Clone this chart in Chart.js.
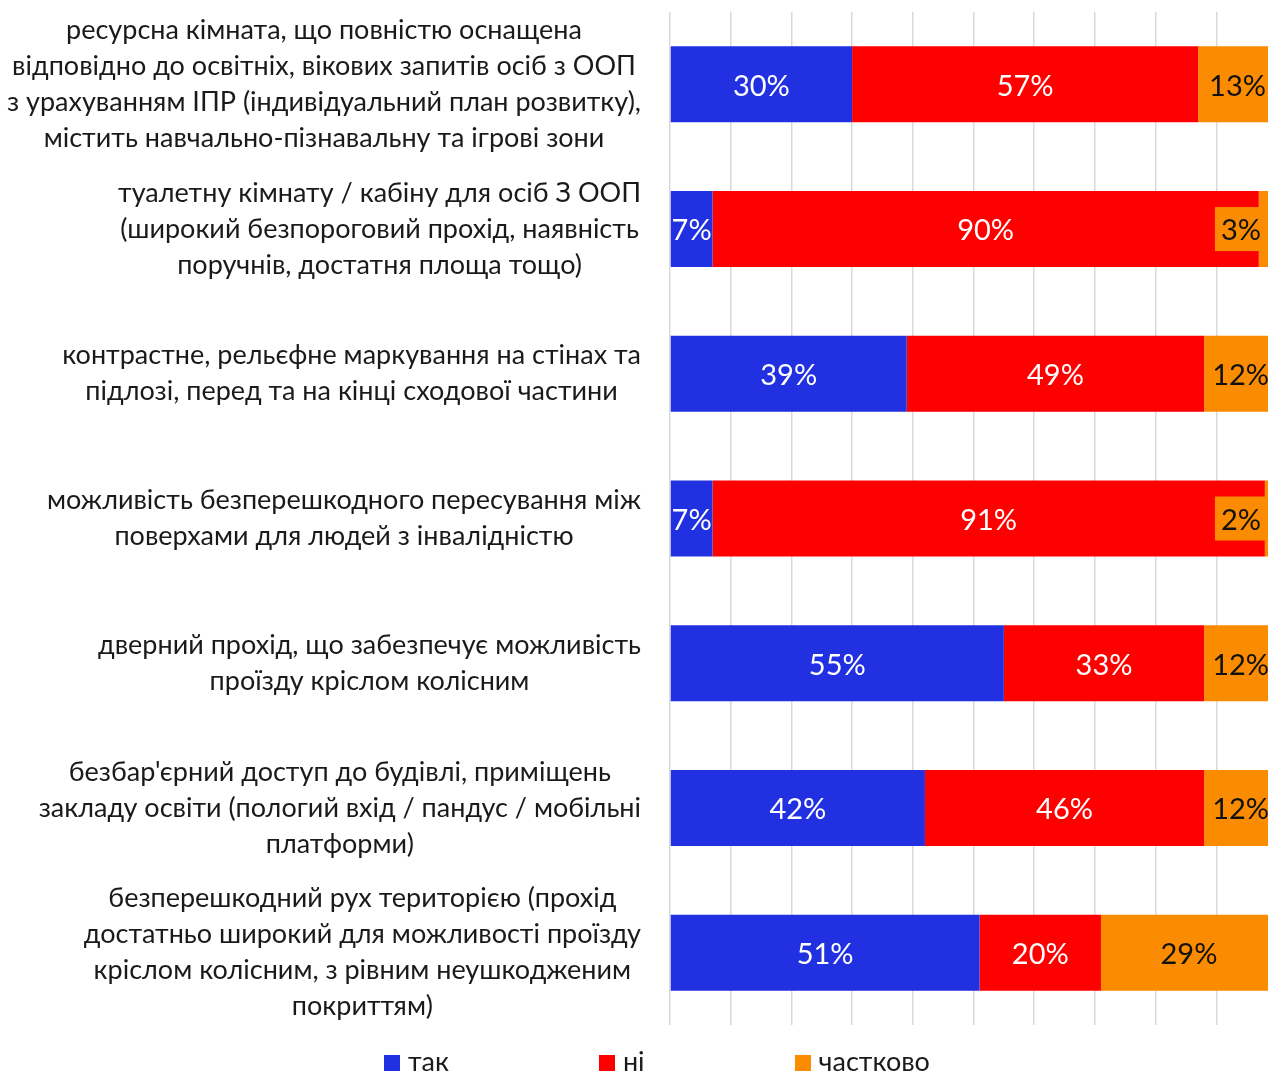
<!DOCTYPE html>
<html>
<head>
<meta charset="utf-8">
<script src="https://cdn.jsdelivr.net/npm/chart.js@4.4.1/dist/chart.umd.min.js"></script>
<style>
  html, body { margin: 0; padding: 0; background: #fff; overflow: hidden; }
  #wrap { position: relative; width: 1290px; height: 1071px; }
  #legend { position: absolute; top: 1047px; left: 384px; display: flex; gap: 150px;
            font-family: Lato, sans-serif; font-size: 27px; line-height: 27px; color: #1a1a1a; white-space: nowrap; }
  #legend span.box { display: inline-block; width: 16px; height: 16px; margin-right: 8px; }
</style>
</head>
<body>
<div id="wrap">
  <canvas id="c"></canvas>
  <div id="legend"></div>
</div>
<script>
const categories = [
  ["ресурсна кімната, що повністю оснащена", "відповідно до освітніх, вікових запитів осіб з ООП", "з урахуванням ІПР (індивідуальний план розвитку),", "містить навчально-пізнавальну та ігрові зони"],
  ["туалетну кімнату / кабіну для осіб З ООП", "(широкий безпороговий прохід, наявність", "поручнів, достатня площа тощо)"],
  ["контрастне, рельєфне маркування на стінах та", "підлозі, перед та на кінці сходової частини"],
  ["можливість безперешкодного пересування між", "поверхами для людей з інвалідністю"],
  ["дверний прохід, що забезпечує можливість", "проїзду кріслом колісним"],
  ["безбар'єрний доступ до будівлі, приміщень", "закладу освіти (пологий вхід / пандус / мобільні", "платформи)"],
  ["безперешкодний рух територією (прохід", "достатньо широкий для можливості проїзду", "кріслом колісним, з рівним неушкодженим", "покриттям)"]
];
const seriesNames = ["так", "ні", "частково"];
const tak = [30, 7, 39, 7, 55, 42, 51];
const ni = [57, 90, 49, 91, 33, 46, 20];
const chastkovo = [13, 3, 12, 2, 12, 12, 29];
const colors = ["#2130E0", "#FF0000", "#FB8B00"];
const labelColors = ["#ffffff", "#ffffff", "#111111"];

const LABEL_FONT = "27px Lato, sans-serif";
const VALUE_FONT = "29px Lato, sans-serif";

const categoryLabelPlugin = {
  id: "categoryLabels",
  afterDraw(chart) {
    const ctx = chart.ctx;
    const yScale = chart.scales.y;
    const rightEdge = chart.chartArea.left - 29;
    const lh = 36;
    ctx.save();
    ctx.font = LABEL_FONT;
    ctx.fillStyle = "#1a1a1a";
    ctx.textAlign = "center";
    ctx.textBaseline = "middle";
    chart.data.labels.forEach((lines, i) => {
      const w = Math.max(...lines.map(l => ctx.measureText(l).width));
      const cx = rightEdge - w / 2;
      const cy = yScale.getPixelForValue(i);
      const y0 = cy - (lines.length - 1) * lh / 2;
      lines.forEach((l, k) => ctx.fillText(l, cx, y0 + k * lh));
    });
    ctx.restore();
  }
};

const valueLabelPlugin = {
  id: "valueLabels",
  afterDatasetsDraw(chart) {
    const ctx = chart.ctx;
    ctx.save();
    ctx.font = VALUE_FONT;
    ctx.textAlign = "center";
    ctx.textBaseline = "middle";
    chart.data.datasets.forEach((ds, di) => {
      const meta = chart.getDatasetMeta(di);
      meta.data.forEach((el, i) => {
        const v = ds.data[i];
        const txt = v + "%";
        const segW = el.x - el.base;
        const tw = ctx.measureText(txt).width;
        let cx = (el.x + el.base) / 2;
        if (tw + 4 > segW && di === chart.data.datasets.length - 1) {
          const bw = tw + 12, bh = 44;
          const right = el.x - 10;
          cx = right - bw / 2;
          ctx.fillStyle = ds.backgroundColor;
          ctx.fillRect(right - bw, el.y - bh / 2, bw, bh);
        }
        ctx.fillStyle = labelColors[di];
        ctx.fillText(txt, cx, el.y + 2);
      });
    });
    ctx.restore();
  }
};

const chart = new Chart(document.getElementById("c"), {
  type: "bar",
  data: {
    labels: categories,
    datasets: [
      { label: seriesNames[0], data: tak, backgroundColor: colors[0] },
      { label: seriesNames[1], data: ni, backgroundColor: colors[1] },
      { label: seriesNames[2], data: chastkovo, backgroundColor: colors[2] }
    ]
  },
  options: {
    indexAxis: "y",
    responsive: true,
    maintainAspectRatio: false,
    animation: false,
    datasets: { bar: { categoryPercentage: 1, barPercentage: 0.525, borderWidth: 0 } },
    layout: { padding: { left: 670, right: 13, top: 12, bottom: 46 } },
    scales: {
      x: {
        stacked: true, min: 0, max: 100,
        ticks: { display: false, stepSize: 10 },
        grid: { color: "#d9d9d9", lineWidth: 1.5, drawTicks: false },
        border: { display: false }
      },
      y: { stacked: true, display: false }
    },
    plugins: { legend: { display: false }, tooltip: { enabled: false } }
  },
  plugins: [categoryLabelPlugin, valueLabelPlugin]
});

const legendEl = document.getElementById("legend");
chart.data.datasets.forEach(ds => {
  const item = document.createElement("div");
  const box = document.createElement("span");
  box.className = "box";
  box.style.background = ds.backgroundColor;
  item.appendChild(box);
  item.appendChild(document.createTextNode(ds.label));
  legendEl.appendChild(item);
});
</script>
</body>
</html>
